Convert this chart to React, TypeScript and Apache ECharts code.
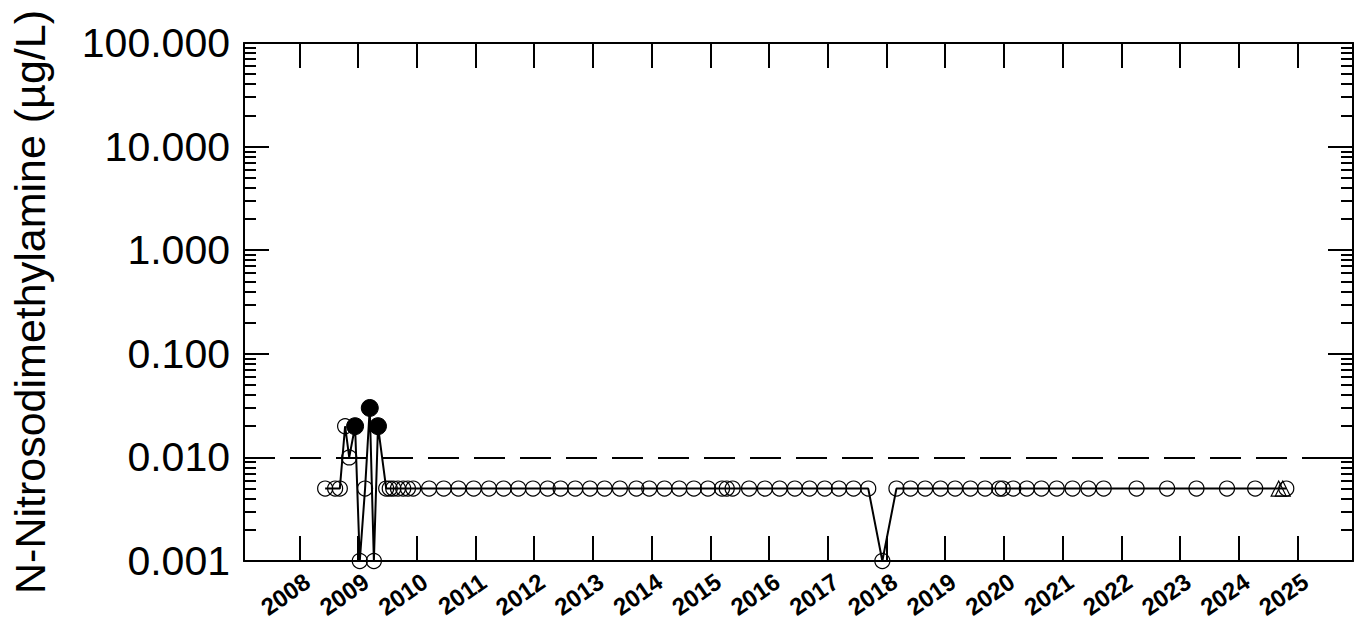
import React, { useEffect, useRef } from "react";
import * as echarts from "echarts";

// ---- data ----
const sampleDates: number[] = [
  2008.44, 2008.61, 2008.69, 2008.78, 2008.85, 2008.95, 2009.03, 2009.12, 2009.2, 2009.27,
  2009.34, 2009.48, 2009.54, 2009.6, 2009.68, 2009.77, 2009.85, 2009.94, 2010.21, 2010.46,
  2010.71, 2010.97, 2011.23, 2011.48, 2011.73, 2011.98, 2012.23, 2012.45, 2012.7, 2012.95,
  2013.2, 2013.46, 2013.74, 2013.96, 2014.22, 2014.47, 2014.72, 2014.96, 2015.2, 2015.28,
  2015.38, 2015.66, 2015.93, 2016.18, 2016.44, 2016.69, 2016.95, 2017.19, 2017.44, 2017.69,
  2017.93, 2018.17, 2018.41, 2018.66, 2018.92, 2019.17, 2019.43, 2019.68, 2019.92, 2019.98,
  2020.16, 2020.39, 2020.64, 2020.9, 2021.17, 2021.44, 2021.7, 2022.26, 2022.78, 2023.28,
  2023.8, 2024.28, 2024.68, 2024.75, 2024.81,
];
const sampleValues: number[] = [
  0.005, 0.005, 0.005, 0.02, 0.01, 0.02, 0.001, 0.005, 0.03, 0.001,
  0.02, 0.005, 0.005, 0.005, 0.005, 0.005, 0.005, 0.005, 0.005, 0.005,
  0.005, 0.005, 0.005, 0.005, 0.005, 0.005, 0.005, 0.005, 0.005, 0.005,
  0.005, 0.005, 0.005, 0.005, 0.005, 0.005, 0.005, 0.005, 0.005, 0.005,
  0.005, 0.005, 0.005, 0.005, 0.005, 0.005, 0.005, 0.005, 0.005, 0.005,
  0.001, 0.005, 0.005, 0.005, 0.005, 0.005, 0.005, 0.005, 0.005, 0.005,
  0.005, 0.005, 0.005, 0.005, 0.005, 0.005, 0.005, 0.005, 0.005, 0.005,
  0.005, 0.005, 0.005, 0.005, 0.005,
];
// o = non-detect (open circle), f = detect (filled circle), t = triangle
const sampleMarkers: string[] = [
  "o", "o", "o", "o", "o", "f", "o", "o", "f", "o",
  "f", "o", "o", "o", "o", "o", "o", "o", "o", "o",
  "o", "o", "o", "o", "o", "o", "o", "o", "o", "o",
  "o", "o", "o", "o", "o", "o", "o", "o", "o", "o",
  "o", "o", "o", "o", "o", "o", "o", "o", "o", "o",
  "o", "o", "o", "o", "o", "o", "o", "o", "o", "o",
  "o", "o", "o", "o", "o", "o", "o", "o", "o", "o",
  "o", "o", "t", "t", "o",
];
const yearTicks: number[] = [
  2008, 2009, 2010, 2011, 2012, 2013, 2014, 2015, 2016, 2017, 2018, 2019, 2020, 2021,
  2022, 2023, 2024, 2025,
];
const majorTicks: number[] = [0.001, 0.01, 0.1, 1, 10, 100];
const minorMultipliers: number[] = [2, 3, 4, 5, 6, 7, 8, 9];
const referenceLevel = 0.0093;
const yTitle = "N-Nitrosodimethylamine (µg/L)";

const X_MIN = 2007.058;
const X_MAX = 2025.946;
const Y_MIN = 0.001;
const Y_MAX = 100;
const FONT = "'Liberation Sans', Arial, Helvetica, sans-serif";

export default function App() {
  const ref = useRef<HTMLDivElement>(null);

  useEffect(() => {
    if (!ref.current) return;
    const chart = echarts.init(ref.current, undefined, { renderer: "svg" });

    const minorTicks: number[] = [];
    majorTicks.slice(0, -1).forEach((d) => minorMultipliers.forEach((m) => minorTicks.push(+(d * m).toPrecision(6))));

    const pts = sampleDates.map((d, i) => [d, sampleValues[i]]);
    const pick = (t: string) => pts.filter((_, i) => sampleMarkers[i] === t);

    const baseY = {
      type: "log" as const,
      logBase: 10,
      min: Y_MIN,
      max: Y_MAX,
      splitLine: { show: false },
    };
    const baseX = {
      type: "value" as const,
      min: X_MIN,
      max: X_MAX,
      splitLine: { show: false },
    };
    const axisLine = { show: true, lineStyle: { color: "#000", width: 2 } };

    chart.setOption({
      animation: false,
      backgroundColor: "#fff",
      grid: { left: 241, right: 11, top: 43, bottom: 74, containLabel: false },
      xAxis: [
        {
          ...baseX,
          position: "bottom",
          axisLine,
          axisTick: { show: true, inside: true, length: 25, customValues: yearTicks, lineStyle: { color: "#000", width: 2 } },
          axisLabel: { show: false },
        },
        {
          ...baseX,
          position: "top",
          axisLine,
          axisTick: { show: true, inside: true, length: 25, customValues: yearTicks, lineStyle: { color: "#000", width: 2 } },
          axisLabel: { show: false },
        },
      ],
      yAxis: [
        {
          ...baseY,
          position: "left",
          axisLine,
          axisTick: { show: true, inside: true, length: 25, customValues: majorTicks, lineStyle: { color: "#000", width: 2 } },
          axisLabel: {
            show: true,
            customValues: majorTicks,
            margin: 14,
            fontSize: 41,
            color: "#000",
            fontFamily: FONT,
            formatter: (v: number) => v.toFixed(3),
          },
          name: yTitle,
          nameLocation: "middle",
          nameRotate: 90,
          nameGap: 193,
          nameTextStyle: { fontSize: 43, color: "#000", fontFamily: FONT },
        },
        {
          ...baseY,
          position: "left",
          axisLine: { show: false },
          axisTick: { show: true, inside: true, length: 12, customValues: minorTicks, lineStyle: { color: "#000", width: 2 } },
          axisLabel: { show: false },
        },
        {
          ...baseY,
          position: "right",
          axisLine,
          axisTick: { show: true, inside: true, length: 25, customValues: majorTicks, lineStyle: { color: "#000", width: 2 } },
          axisLabel: { show: false },
        },
        {
          ...baseY,
          position: "right",
          axisLine: { show: false },
          axisTick: { show: true, inside: true, length: 12, customValues: minorTicks, lineStyle: { color: "#000", width: 2 } },
          axisLabel: { show: false },
        },
      ],
      series: [
        {
          type: "line",
          xAxisIndex: 0,
          yAxisIndex: 0,
          data: pts,
          showSymbol: false,
          symbol: "none",
          lineStyle: { color: "#000", width: 2, opacity: 1 },
          z: 2,
          silent: true,
          markLine: {
            silent: true,
            symbol: "none",
            label: { show: false },
            lineStyle: { color: "#000", width: 2, type: [31, 15], opacity: 1 },
            data: [{ yAxis: referenceLevel }],
          },
        },
        {
          type: "scatter",
          xAxisIndex: 0,
          yAxisIndex: 0,
          data: pick("o"),
          symbol: "circle",
          symbolSize: 15,
          clip: false,
          itemStyle: { color: "rgba(0,0,0,0)", borderColor: "#000", borderWidth: 1.2, opacity: 1 },
          z: 3,
        },
        {
          type: "scatter",
          xAxisIndex: 0,
          yAxisIndex: 0,
          data: pick("f"),
          symbol: "circle",
          symbolSize: 17,
          clip: false,
          itemStyle: { color: "#000", borderColor: "#000", borderWidth: 1, opacity: 1 },
          z: 4,
        },
        {
          type: "scatter",
          xAxisIndex: 0,
          yAxisIndex: 0,
          data: pick("t"),
          symbol: "triangle",
          symbolSize: 15,
          clip: false,
          itemStyle: { color: "rgba(0,0,0,0)", borderColor: "#000", borderWidth: 1.2, opacity: 1 },
          z: 3,
        },
      ],
    });

    // rotated year labels, positioned through the x axis scale
    const yearLabels = yearTicks.map((yr) => {
      const p = chart.convertToPixel({ xAxisIndex: 0, yAxisIndex: 0 }, [yr, Y_MIN]) as number[];
      return {
        type: "text",
        x: p[0] + 8,
        y: p[1] + 18,
        rotation: (35 * Math.PI) / 180,
        silent: true,
        style: {
          text: String(yr),
          fontSize: 24,
          fontWeight: "bold",
          fontFamily: FONT,
          fill: "#000",
          align: "right",
          verticalAlign: "middle",
        },
      };
    });
    chart.setOption({ graphic: yearLabels });

    return () => chart.dispose();
  }, []);

  return (
    <div
      ref={ref}
      style={{ position: "fixed", left: 0, top: 0, width: 1364, height: 635, background: "#fff" }}
    />
  );
}
